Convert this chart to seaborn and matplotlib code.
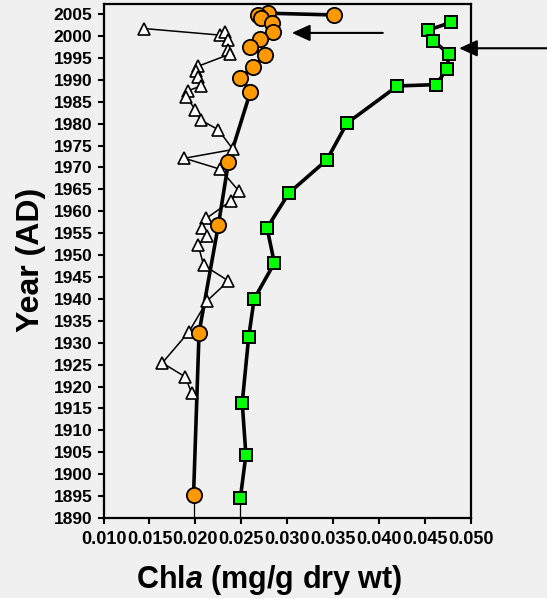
import matplotlib
matplotlib.use("Agg")
import matplotlib.pyplot as plt
import seaborn as sns

# open triangles (thin line)
tri_chl = [0.0144, 0.0227, 0.0232, 0.0235, 0.0236, 0.0238, 0.0203, 0.0201, 0.0203,
           0.0206, 0.0192, 0.0190, 0.0200, 0.0206, 0.0225, 0.0241, 0.0188, 0.0227,
           0.0247, 0.0239, 0.0212, 0.0207, 0.0213, 0.0203, 0.0209, 0.0236, 0.0213,
           0.0193, 0.0164, 0.0189, 0.0196]
tri_year = [2001.7, 2000.2, 2000.8, 1999.1, 1996.8, 1995.9, 1993.1, 1992.1, 1990.7,
            1988.6, 1987.5, 1986.1, 1983.2, 1980.8, 1978.6, 1974.1, 1972.1, 1969.6,
            1964.7, 1962.4, 1958.4, 1956.2, 1954.4, 1952.3, 1947.7, 1944.1, 1939.6,
            1932.5, 1925.4, 1922.2, 1918.5]

# orange circles (thick line)
circ_chl = [0.0351, 0.0279, 0.0268, 0.0271, 0.0283, 0.0285, 0.0270, 0.0260, 0.0276,
            0.0263, 0.0249, 0.0260, 0.0236, 0.0225, 0.0204, 0.0198]
circ_year = [2004.8, 2005.2, 2004.8, 2004.0, 2003.0, 2001.0, 1999.2, 1997.5, 1995.6,
             1993.0, 1990.5, 1987.3, 1971.2, 1956.8, 1932.3, 1895.2]

# green squares (thick line)
sq_chl = [0.0478, 0.0453, 0.0459, 0.0476, 0.0474, 0.0462, 0.0420, 0.0365, 0.0343,
          0.0302, 0.0278, 0.0286, 0.0264, 0.0258, 0.0251, 0.0255, 0.0249]
sq_year = [2003.1, 2001.3, 1998.9, 1995.9, 1992.5, 1988.9, 1988.6, 1980.1, 1971.7,
           1964.2, 1956.2, 1948.2, 1940.0, 1931.3, 1916.3, 1904.4, 1894.6]

year_ticks = list(range(1890, 2006, 5))
chl_ticks = [0.010, 0.015, 0.020, 0.025, 0.030, 0.035, 0.040, 0.045, 0.050]

bg = "#f0f0f0"
sns.set_style("ticks")
plt.rcParams["font.family"] = ["Liberation Sans", "DejaVu Sans"]
plt.rcParams["text.color"] = "black"
plt.rcParams["mathtext.fontset"] = "custom"
plt.rcParams["mathtext.it"] = "Liberation Sans:bold:italic"
plt.rcParams["mathtext.rm"] = "Liberation Sans:bold"

fig = plt.figure(figsize=(5.47, 5.98), dpi=100, facecolor=bg)
ax = fig.add_axes([103.5 / 547, 1 - 518 / 598, 367.5 / 547, 514 / 598])
ax.set_facecolor(bg)

# orange line (under triangles)
sns.lineplot(x=circ_chl, y=circ_year, sort=False, estimator=None, ax=ax,
             color="black", lw=2.6, zorder=2)
ax.plot([circ_chl[-1], circ_chl[-1]], [circ_year[-1], 1890], color="black", lw=0.9, zorder=2)

# triangles
sns.lineplot(x=tri_chl, y=tri_year, sort=False, estimator=None, ax=ax,
             color="black", lw=1.1, marker="^", markersize=8,
             markerfacecolor="white", markeredgecolor="black",
             markeredgewidth=1.2, zorder=3)

# orange markers on top
sns.lineplot(x=circ_chl, y=circ_year, sort=False, estimator=None, ax=ax,
             color="black", lw=0, marker="o", markersize=11,
             markerfacecolor="#ff9900", markeredgecolor="black",
             markeredgewidth=1.3, zorder=4)

# green squares
sns.lineplot(x=sq_chl, y=sq_year, sort=False, estimator=None, ax=ax,
             color="black", lw=2.6, marker="s", markersize=8,
             markerfacecolor="#00ff00", markeredgecolor="black",
             markeredgewidth=1.4, zorder=5)
ax.plot([sq_chl[-1], sq_chl[-1]], [sq_year[-1], 1890], color="black", lw=0.9, zorder=2)

# arrows
arrow = dict(arrowstyle="-|>,head_length=1.1,head_width=0.5", color="black",
             lw=1.5, shrinkA=0, shrinkB=0, mutation_scale=10)
ax.annotate("", xy=(0.0305, 2000.7), xytext=(0.0404, 2000.7), arrowprops=arrow)
ax.annotate("", xy=(0.0487, 1997.2), xytext=(0.0590, 1997.2), arrowprops=arrow,
            annotation_clip=False)

ax.set_xlim(0.010, 0.050)
ax.set_ylim(1890, 2007.3)
ax.set_xticks(chl_ticks)
ax.set_xticklabels([f"{t:.3f}" for t in chl_ticks])
ax.set_yticks(year_ticks)
ax.set_yticklabels([str(y) for y in year_ticks])
ax.tick_params(direction="out", length=4, width=1.5, labelsize=12.5,
               colors="black", labelcolor="black")
ax.tick_params(axis="x", pad=5, labelsize=13)
ax.tick_params(axis="y", pad=4)
for lab in ax.get_xticklabels() + ax.get_yticklabels():
    lab.set_fontweight("bold")
for s in ax.spines.values():
    s.set_visible(True)
    s.set_linewidth(1.6)
    s.set_color("black")
ax.set_xlabel("")
ax.set_ylabel("")

fig.text(31 / 547, 1 - 259.5 / 598, "Year (AD)", rotation=90, ha="center", va="center",
         fontsize=23, fontweight="bold", color="black")
fig.text(269 / 547, 1 - 588 / 598, r"Chl$\mathit{a}$ (mg/g dry wt)", ha="center",
         va="baseline", fontsize=22, fontweight="bold", color="black")

fig.savefig("out.png", dpi=100, facecolor=bg)
